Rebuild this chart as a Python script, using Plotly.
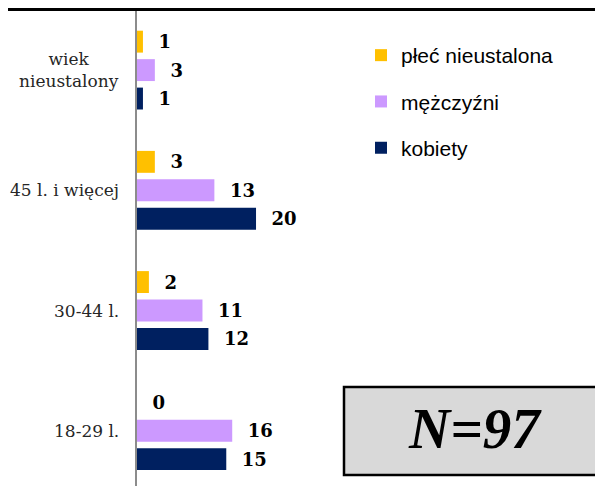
import plotly.graph_objects as go

# age groups, bottom to top as drawn
categories = ["18-29 l.", "30-44 l.", "45 l. i więcej", "wiek<br>nieustalony"]

kobiety = [15, 12, 20, 1]
mezczyzni = [16, 11, 13, 3]
plec_nieustalona = [0, 2, 3, 1]

series_names = ["kobiety", "mężczyźni", "płeć nieustalona"]
series_values = [kobiety, mezczyzni, plec_nieustalona]
series_colors = ["#002060", "#CC99FF", "#FFC000"]

total_label = "N=97"

# the page body adds an 8px margin, so the figure is drawn 8px smaller
OFF = 8
W, H = 603 - OFF, 486 - OFF
M_L, M_T, M_B = 137 - OFF, 10 - OFF, 0
plot_w = W - M_L
plot_h = H - M_T - M_B


def px_x(px):
    # page pixel -> paper x
    return (px - OFF - M_L) / plot_w


def px_y(py):
    # page pixel -> paper y
    return 1 - (py - OFF - M_T) / plot_h


fig = go.Figure()

for i, (name, vals, color) in enumerate(zip(series_names, series_values, series_colors)):
    fig.add_trace(go.Bar(
        y=categories,
        x=vals,
        orientation='h',
        name=name,
        legendgroup=name,
        legendrank=1000 - i,  # legend lists them top-down like the bars
        marker=dict(color=color, line=dict(width=0)),
        text=vals,
        texttemplate='\u00a0\u00a0%{x}',
        textposition='outside',
        textfont=dict(family='DejaVu Serif', size=18, color='black', weight='bold'),
        cliponaxis=False,
    ))

# category labels (centered multi-line, like the original)
for cat in categories:
    fig.add_annotation(
        xref='paper', x=0, xshift=-16, xanchor='right',
        yref='y', y=cat, yanchor='middle',
        text=cat, showarrow=False, align='center',
        font=dict(family='DejaVu Serif', size=17, color='#262626'),
    )

# N box
fig.add_shape(
    type='rect', xref='paper', yref='paper',
    x0=px_x(344), x1=px_x(606),
    y0=px_y(475), y1=px_y(387),
    fillcolor='#D9D9D9', line=dict(color='black', width=2.5),
)
fig.add_annotation(
    xref='paper', yref='paper',
    x=px_x(475), y=px_y(428), xanchor='center', yanchor='middle',
    text='<b><i>' + total_label + '</i></b>', showarrow=False,
    font=dict(family='Liberation Serif', size=57, color='black'),
)

# frame line across the top (as high as the page lets it go)
fig.add_shape(
    type='line', xref='paper', yref='paper',
    x0=px_x(-10), x1=px_x(620), y0=px_y(9.5), y1=px_y(9.5),
    line=dict(color='black', width=3),
)

fig.update_layout(
    width=W, height=H,
    margin=dict(l=M_L, r=0, t=M_T, b=M_B),
    plot_bgcolor='white', paper_bgcolor='white',
    barmode='group', bargap=0.29, bargroupgap=0.23,
    xaxis=dict(range=[0, 78.3], showgrid=False, zeroline=False,
               showticklabels=False, showline=False),
    yaxis=dict(range=[-0.46, 3.5], showgrid=False, zeroline=False,
               showticklabels=False, ticks='', showline=True,
               linecolor='#8C8C8C', linewidth=2),
    showlegend=True,
    legend=dict(
        x=px_x(361), y=px_y(35),
        xanchor='left', yanchor='top',
        traceorder='grouped', tracegroupgap=16,
        font=dict(family='Liberation Sans', size=21, color='black'),
        bgcolor='rgba(0,0,0,0)',
    ),
)

fig.write_html("out.html")
